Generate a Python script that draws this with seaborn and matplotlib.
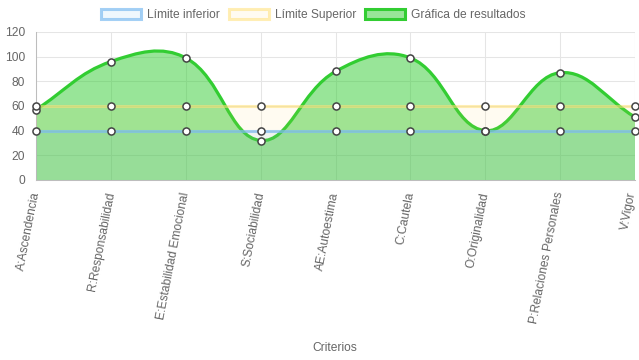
import numpy as np
import matplotlib
matplotlib.use('Agg')
import matplotlib.pyplot as plt
import matplotlib.transforms as mtransforms
from matplotlib.path import Path
from matplotlib.patches import PathPatch, Patch
import seaborn as sns

# Data
criterios = ['A:Ascendencia', 'R:Responsabilidad', 'E:Estabilidad Emocional',
             'S:Sociabilidad', 'AE:Autoestima', 'C:Cautela', 'O:Originalidad',
             'P:Relaciones Personales', 'V:Vigor']
resultados = [57, 96, 99, 32, 88, 99, 40, 87, 51]
limite_inferior = [40, 40, 40, 40, 40, 40, 40, 40, 40]
limite_superior = [60, 60, 60, 60, 60, 60, 60, 60, 60]
y_ticks = [0, 20, 40, 60, 80, 100, 120]
series_names = ['Límite inferior', 'Límite Superior', 'Gráfica de resultados']

BLUE_LINE = (126/255, 188/255, 241/255, 0.7)
BLUE_FILL = (54/255, 162/255, 235/255, 0.08)
YELLOW_LINE = (255/255, 225/255, 120/255, 0.55)
YELLOW_FILL = (255/255, 205/255, 86/255, 0.08)
GREEN = (50/255, 205/255, 50/255)
TXT = '#666666'
GRID = '#e5e5e5'

sns.set_style('white')
plt.rcParams['font.family'] = ['Liberation Sans', 'DejaVu Sans']

fig = plt.figure(figsize=(6.39, 3.6), dpi=100)
ax = fig.add_axes([36/639, 1 - 180/360, 599/639, 148/360])
x = np.arange(len(criterios))
ax.set_xlim(0, len(criterios) - 1)
ax.set_ylim(0, 120)


def spline_paths(ax, xs, ys, tension=0.4):
    # Chart.js style bezier spline, control points computed in pixel space
    pts = ax.transData.transform(np.column_stack([xs, ys]))
    n = len(pts)
    prev_cp = pts.copy()
    next_cp = pts.copy()
    for i in range(n):
        p0 = pts[i - 1] if i > 0 else pts[i]
        p2 = pts[i + 1] if i < n - 1 else pts[i]
        d01 = np.hypot(*(pts[i] - p0))
        d12 = np.hypot(*(p2 - pts[i]))
        tot = d01 + d12
        s01 = d01 / tot if tot else 0
        s12 = d12 / tot if tot else 0
        prev_cp[i] = pts[i] - tension * s01 * (p2 - p0)
        next_cp[i] = pts[i] + tension * s12 * (p2 - p0)
    bb = ax.bbox
    for cp in (prev_cp, next_cp):
        cp[:, 0] = np.clip(cp[:, 0], bb.x0, bb.x1)
        cp[:, 1] = np.clip(cp[:, 1], bb.y0, bb.y1)
    verts = [pts[0]]
    codes = [Path.MOVETO]
    for i in range(n - 1):
        verts += [next_cp[i], prev_cp[i + 1], pts[i + 1]]
        codes += [Path.CURVE4] * 3
    inv = ax.transData.inverted()
    verts = inv.transform(np.array(verts))
    line = Path(verts, codes)
    fverts = np.vstack([[xs[0], 0], verts, [xs[-1], 0], [xs[0], 0]])
    fcodes = [Path.MOVETO, Path.LINETO] + codes[1:] + [Path.LINETO, Path.CLOSEPOLY]
    fill = Path(fverts, fcodes)
    return line, fill


# grid
ax.grid(True, color=GRID, linewidth=0.75)
ax.set_axisbelow(True)
for s in ['top', 'right']:
    ax.spines[s].set_visible(False)
for s in ['left', 'bottom']:
    ax.spines[s].set_color('#bdbdbd')
    ax.spines[s].set_linewidth(0.75)
ax.axvline(x[-1], color=GRID, linewidth=0.75, zorder=0.5)

# results (green) - drawn first, below limits
line_path, fill_path = spline_paths(ax, x, resultados)
ax.add_patch(PathPatch(fill_path, facecolor=GREEN + (0.5,), edgecolor='none', zorder=1))
ax.add_patch(PathPatch(line_path, facecolor='none', edgecolor=GREEN, linewidth=2.3, zorder=2))

# limits
ax.fill_between(x, 0, limite_superior, color=YELLOW_FILL, linewidth=0, zorder=3)
sns.lineplot(x=x, y=limite_superior, color=YELLOW_LINE, linewidth=2.2, ax=ax, zorder=4)
ax.fill_between(x, 0, limite_inferior, color=BLUE_FILL, linewidth=0, zorder=5)
sns.lineplot(x=x, y=limite_inferior, color=BLUE_LINE, linewidth=2.2, ax=ax, zorder=6)

# points
for vals in (resultados, limite_superior, limite_inferior):
    sns.scatterplot(x=x, y=vals, s=26, color='white', edgecolor='#444444',
                    linewidth=1.1, ax=ax, zorder=10, clip_on=False)

ax.set_yticks(y_ticks)
ax.set_xticks(x)
ax.set_xticklabels(criterios, rotation=79, ha='right', va='center',
                   rotation_mode='anchor')
ax.tick_params(axis='both', length=5.8, width=0.75, color=GRID, labelcolor=TXT,
               labelsize=8.64)
ax.tick_params(axis='x', pad=3)
ax.tick_params(axis='y', pad=2)
# keep the last label inside the canvas
last = ax.get_xticklabels()[-1]
last.set_transform(last.get_transform() +
                   mtransforms.ScaledTranslation(-3 / 100, 0, fig.dpi_scale_trans))
ax.set_xlabel('Criterios', color=TXT, fontsize=8.64, va='center')
ax.xaxis.set_label_coords((335 - 36) / 599, (180 - 348) / 148)
ax.set_ylabel('')

handles = [
    Patch(facecolor=BLUE_FILL, edgecolor=BLUE_LINE, linewidth=2.2),
    Patch(facecolor=YELLOW_FILL, edgecolor=YELLOW_LINE, linewidth=2.2),
    Patch(facecolor=GREEN + (0.5,), edgecolor=GREEN, linewidth=2.2),
]
leg = fig.legend(handles, series_names, loc='center', ncol=3,
                 bbox_to_anchor=(313.5 / 639, 1 - 15 / 360), frameon=False,
                 handlelength=3.33, handleheight=0.9, handletextpad=0.5,
                 columnspacing=0.75, fontsize=8.64)
for t in leg.get_texts():
    t.set_color(TXT)

fig.savefig('out.png', dpi=100)
